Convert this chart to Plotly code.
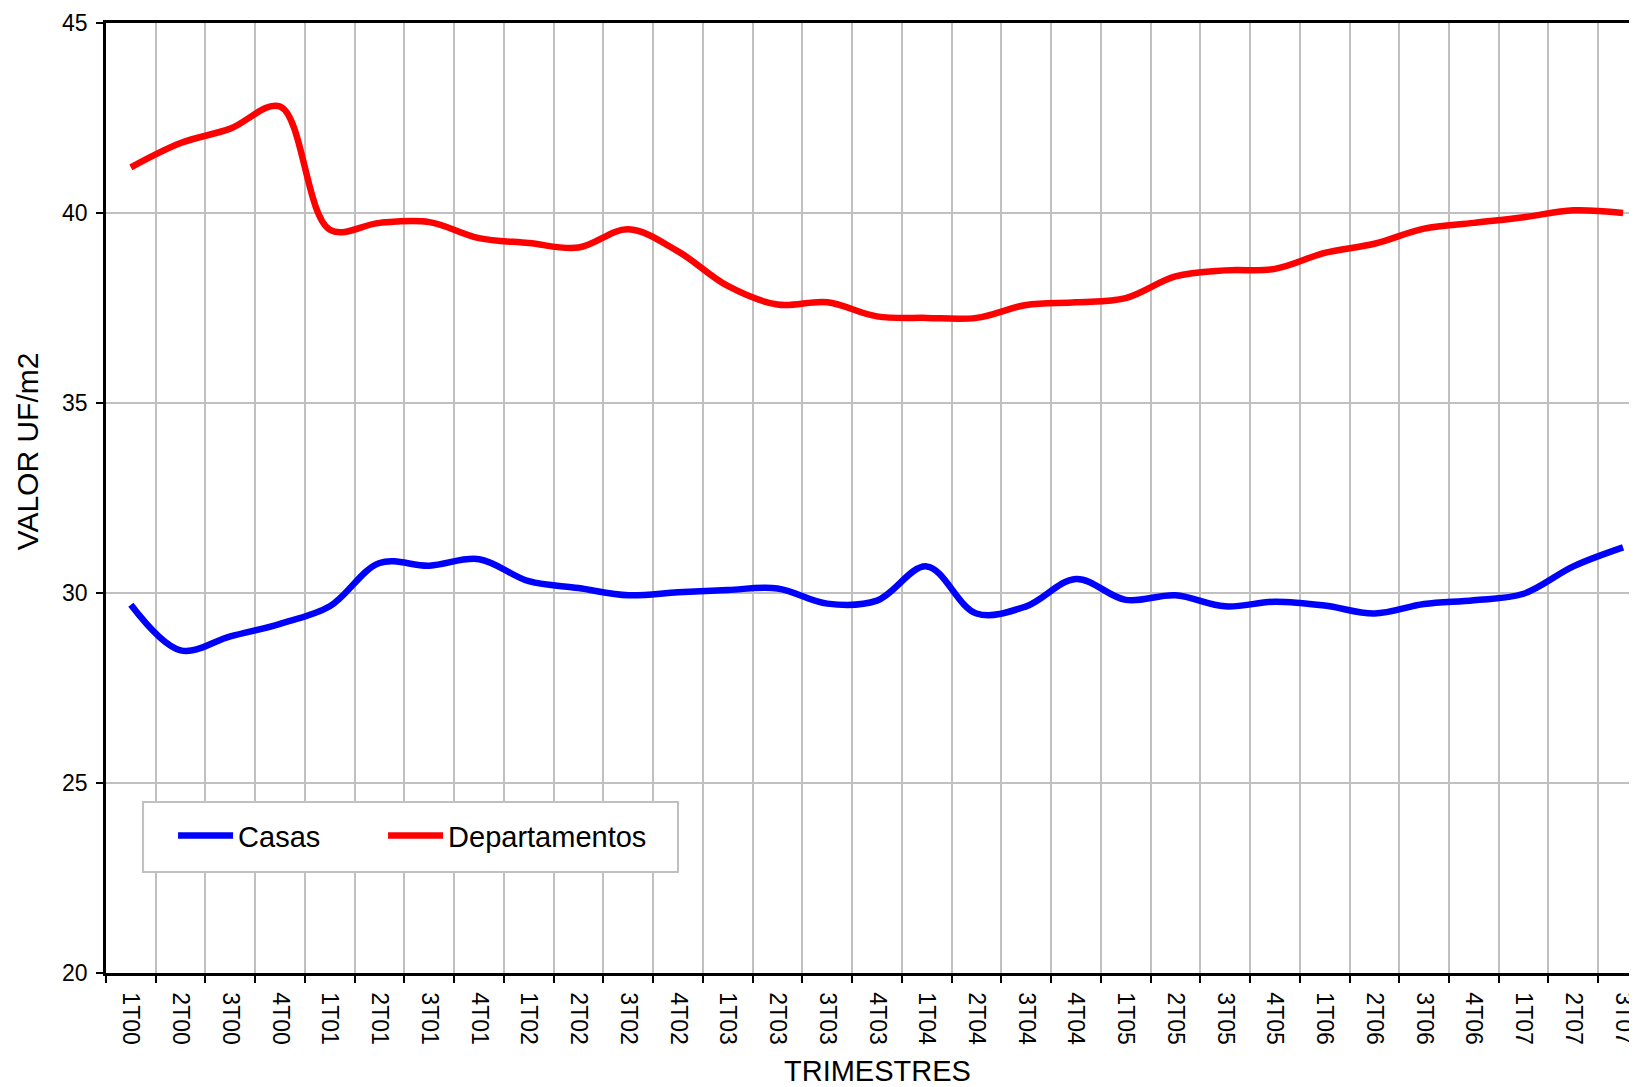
import plotly.graph_objects as go

# Category labels (quarters)
trimestres = [
    "1T00", "2T00", "3T00", "4T00",
    "1T01", "2T01", "3T01", "4T01",
    "1T02", "2T02", "3T02", "4T02",
    "1T03", "2T03", "3T03", "4T03",
    "1T04", "2T04", "3T04", "4T04",
    "1T05", "2T05", "3T05", "4T05",
    "1T06", "2T06", "3T06", "4T06",
    "1T07", "2T07", "3T07",
]

casas = [
    29.69, 28.49, 28.86, 29.19,
    29.65, 30.79, 30.72, 30.89,
    30.31, 30.13, 29.94, 30.02,
    30.08, 30.12, 29.72, 29.80,
    30.70, 29.46, 29.65, 30.37,
    29.82, 29.94, 29.65, 29.77,
    29.67, 29.46, 29.71, 29.81,
    29.98, 30.70, 31.20,
]

departamentos = [
    41.20, 41.84, 42.22, 42.80,
    39.56, 39.74, 39.76, 39.34,
    39.21, 39.09, 39.57, 38.99,
    38.08, 37.59, 37.65, 37.28,
    37.24, 37.24, 37.58, 37.65,
    37.76, 38.33, 38.49, 38.53,
    38.95, 39.19, 39.59, 39.74,
    39.89, 40.07, 40.00,
]

y_ticks = [20, 25, 30, 35, 40, 45]

FONT = "Liberation Sans, Arial, sans-serif"

fig = go.Figure()
fig.add_trace(go.Scatter(
    x=trimestres, y=casas, name="Casas", mode="lines",
    line=dict(color="#0000FF", width=6.5, shape="spline", smoothing=1),
    legendwidth=140,
))
fig.add_trace(go.Scatter(
    x=trimestres, y=departamentos, name="Departamentos", mode="lines",
    line=dict(color="#FF0000", width=6.5, shape="spline", smoothing=1),
))

fig.update_layout(
    width=1629, height=1079,
    margin=dict(l=98, r=0, t=15, b=114),
    paper_bgcolor="white", plot_bgcolor="white",
    font=dict(family=FONT, color="black", size=23),
    showlegend=True,
    legend=dict(
        orientation="h",
        x=0.0438, y=0.1445, xanchor="left", yanchor="middle",
        bgcolor="rgba(0,0,0,0)", borderwidth=0,
        font=dict(family=FONT, size=29, color="black"),
        itemwidth=55,
    ),
    shapes=[
        # legend frame
        dict(type="rect", xref="paper", yref="paper",
             x0=0.0242, x1=0.3736, y0=0.1063, y1=0.18,
             line=dict(color="#c0c0c0", width=2), fillcolor="white",
             layer="above"),
    ],
    xaxis=dict(
        type="category",
        categoryorder="array", categoryarray=trimestres,
        range=[-0.5, 30.28],
        tickson="boundaries",
        showgrid=True, gridcolor="#c0c0c0", gridwidth=2,
        showline=True, linecolor="black", linewidth=2.5, mirror=True,
        ticks="outside", ticklen=7, tickwidth=2, tickcolor="black",
        tickangle=90,
        tickfont=dict(family=FONT, size=23, color="black"),
        ticklabelstandoff=12,
        zeroline=False,
    ),
    yaxis=dict(
        range=[20, 45],
        tickvals=y_ticks,
        showgrid=True, gridcolor="#c0c0c0", gridwidth=2,
        showline=True, linecolor="black", linewidth=2.5,
        ticks="outside", ticklen=7, tickwidth=2, tickcolor="black",
        tickfont=dict(family=FONT, size=23, color="black"),
        ticklabelstandoff=4,
        zeroline=False,
    ),
    annotations=[
        dict(text="VALOR UF/m2", textangle=-90, showarrow=False,
             xref="paper", yref="paper", x=-0.051, y=0.549,
             xanchor="center", yanchor="middle",
             font=dict(family=FONT, size=30, color="black")),
        dict(text="TRIMESTRES", showarrow=False,
             xref="paper", yref="paper", x=0.5036, y=-0.103,
             xanchor="center", yanchor="middle",
             font=dict(family=FONT, size=29, color="black")),
    ],
)

fig.write_html("out.html")
